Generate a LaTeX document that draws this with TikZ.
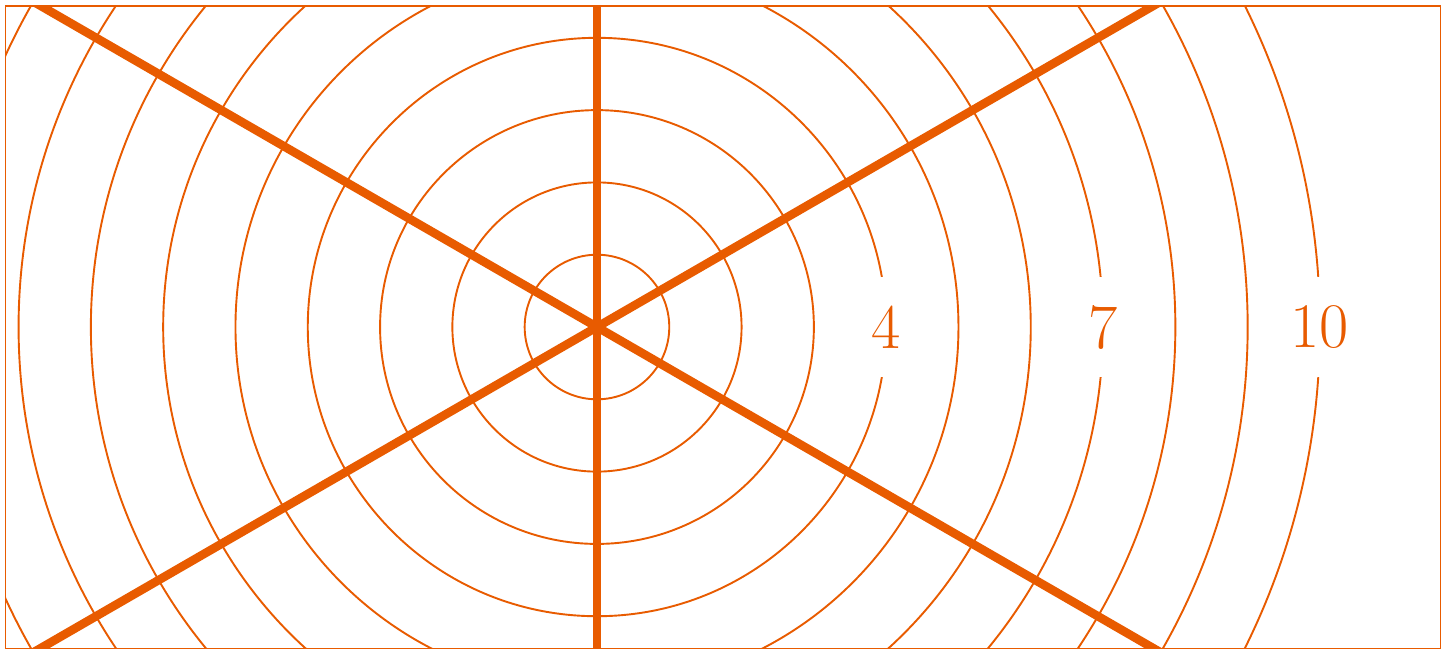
\documentclass[tikz,border=0pt]{standalone}
\definecolor{org}{RGB}{232,91,0}
\begin{document}
\begin{tikzpicture}[
  ring/.style={draw=org, line width=0.75pt},
  spoke/.style={draw=org, line width=3.4pt},
  lbl/.style={fill=white, text=org, font=\fontsize{25}{30}\selectfont, minimum height=1.38cm, inner xsep=2pt}
]
\useasboundingbox (-8.257,-4.454) rectangle (11.840,4.523);
\coordinate (c) at (0,0);
\begin{scope}
  \clip (-8.18,-4.44) rectangle (11.67,4.44);
  \foreach \r in {1,...,10} {\draw[ring] (c) circle (\r);}
  \draw[spoke] (0,-5) -- (0,5);
  \draw[spoke] (210:10) -- (30:10);
  \draw[spoke] (150:10) -- (-30:10);
  \node[lbl] (l4) at (4,0) {4};
  \node[lbl] (l7) at (7,0) {7};
  \node[lbl] (l10) at (10,0) {10};
\end{scope}
\draw[draw=org, line width=0.4pt] (-8.18,-4.44) rectangle (11.67,4.44);
\end{tikzpicture}
\end{document}
